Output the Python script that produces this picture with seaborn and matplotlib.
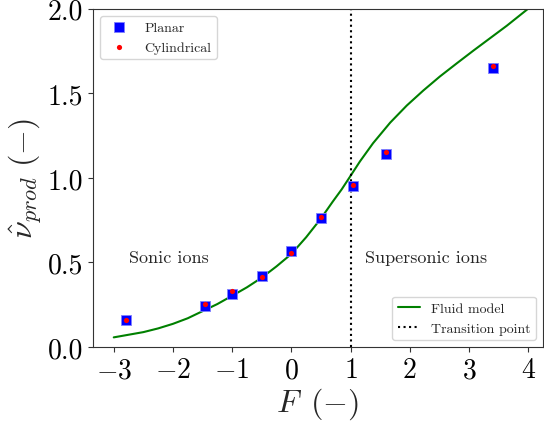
import seaborn as sns
import matplotlib
import matplotlib.pyplot as plt
import pandas as pd

matplotlib.use("Agg")

f_points = [-2.8, -1.45, -1.0, -0.5, 0.0, 0.5, 1.05, 1.6, 3.4]
nu_planar = [0.158, 0.244, 0.314, 0.42, 0.566, 0.763, 0.951, 1.144, 1.651]
nu_cylindrical = [0.16, 0.253, 0.33, 0.416, 0.556, 0.769, 0.96, 1.154, 1.661]

# fluid model curve
f_fluid = [-3.0, -2.5, -2.25, -2.0, -1.75, -1.5, -1.25, -1.0, -0.75, -0.5, -0.25,
           0.0, 0.25, 0.5, 0.7, 0.85, 1.0, 1.16, 1.38, 1.67, 1.95, 2.23, 2.51,
           2.8, 3.08, 3.36, 3.64, 3.98, 4.3]
nu_fluid = [0.057, 0.088, 0.11, 0.137, 0.17, 0.212, 0.254, 0.303, 0.353, 0.41, 0.477,
            0.55, 0.649, 0.76, 0.86, 0.932, 1.012, 1.098, 1.205, 1.327, 1.428, 1.517, 1.60,
            1.679, 1.754, 1.827, 1.90, 1.995, 2.08]

transition_f = 1.0

sns.set_style("ticks")
plt.rcParams.update(
    {
        "font.family": "serif",
        "font.serif": ["cmr10", "DejaVu Serif"],
        "mathtext.fontset": "cm",
        "axes.formatter.use_mathtext": True,
        "axes.unicode_minus": True,
        "axes.edgecolor": "#333333",
        "xtick.color": "#333333",
        "ytick.color": "#333333",
        "xtick.labelcolor": "black",
        "ytick.labelcolor": "black",
    }
)

points = pd.DataFrame({"F": f_points, "planar": nu_planar, "cyl": nu_cylindrical})
fluid = pd.DataFrame({"F": f_fluid, "nu": nu_fluid})

fig = plt.figure(figsize=(5.44, 4.27), dpi=100)
ax = fig.add_subplot(1, 1, 1)
fig.subplots_adjust(left=0.171, right=0.998, top=0.977, bottom=0.185)

sns.scatterplot(data=points, x="F", y="planar", marker="s", color="blue", s=60,
                edgecolor="#7f7fff", linewidth=0.6, ax=ax, label="Planar", zorder=3)
sns.scatterplot(data=points, x="F", y="cyl", marker="o", color="red", s=14,
                linewidth=0, ax=ax, label="Cylindrical", zorder=4)
sns.lineplot(data=fluid, x="F", y="nu", color="green", linewidth=1.5, ax=ax,
             label="Fluid model", zorder=2)
ax.axvline(transition_f, color="black", linestyle=":", linewidth=1.5,
           label="Transition point")

ax.text(-2.75, 0.5, "Sonic ions", fontsize=13)
ax.text(1.25, 0.5, "Supersonic ions", fontsize=13)

ax.set_xlim(-3.35, 4.25)
ax.set_ylim(0, 2.0)
ax.set_xticks([-3, -2, -1, 0, 1, 2, 3, 4])
ax.set_yticks([0.0, 0.5, 1.0, 1.5, 2.0])
ax.set_yticklabels(["0.0", "0.5", "1.0", "1.5", "2.0"])
ax.tick_params(labelsize=20)
ax.set_xlabel(r"$F\enspace(-)$", fontsize=23, labelpad=2)
ax.set_ylabel(r"$\hat{\nu}_{prod}\ (-)$", fontsize=23, labelpad=3)

handles, labels = ax.get_legend_handles_labels()
leg1 = ax.legend(handles[:2], labels[:2], loc="upper left", fontsize=10,
                 frameon=True, fancybox=True)
ax.add_artist(leg1)
ax.legend(handles[2:], labels[2:], loc="lower right", fontsize=10,
          frameon=True, fancybox=True, handlelength=1.6)

plt.savefig("out.png", dpi=100)
